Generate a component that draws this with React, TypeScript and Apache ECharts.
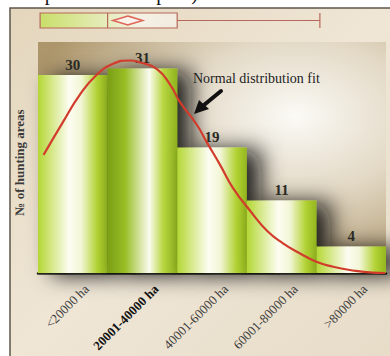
import React, { useEffect, useRef } from "react";
import * as echarts from "echarts";

// Hunting-area size classes and the number of areas in each
const categories = ["<20000 ha", "20001-40000 ha", "40001-60000 ha", "60001-80000 ha", ">80000 ha"];
const counts = [30, 31, 19, 11, 4];

// Fitted normal curve, x measured in class widths from the left edge
const fitX = [0.08, 0.36, 0.6, 0.84, 1.08, 1.32, 1.47, 1.71, 1.9, 2.04, 2.28, 2.42, 2.61, 2.8, 3.05, 3.29, 3.52, 3.76, 4.0, 4.24, 4.48, 4.81, 4.99];
const fitY = [17.9, 22.9, 27.0, 30.0, 31.7, 32.2, 31.9, 30.9, 28.5, 25.9, 22.5, 19.9, 16.5, 12.9, 9.4, 6.4, 4.5, 3.0, 1.7, 0.95, 0.45, 0.05, 0];

// Box-plot summary on the same class-width scale: min, Q1, median, Q3, max
const boxStats = [0.03, 0.03, 1.0, 2.0, 4.05];
const meanPos = 1.29;

const yMax = 35;
const caption = "Graphs 3 and Graph 4).";
const fitLabel = "Normal distribution fit";
const yName = "№ of hunting areas";

const SERIF = "'Liberation Serif', 'DejaVu Serif', serif";

function barGradient(i: number) {
  const stops =
    i === 1
      ? [
          { offset: 0, color: "#7a9f16" },
          { offset: 0.25, color: "#98bd24" },
          { offset: 0.6, color: "#fbfbef" },
          { offset: 0.8, color: "#b8d640" },
          { offset: 1, color: "#8fb21e" },
        ]
      : [
          { offset: 0, color: "#b4d734" },
          { offset: 0.45, color: "#fdfdf2" },
          { offset: 0.62, color: "#f2f6d6" },
          { offset: 0.85, color: "#b2d233" },
          { offset: 1, color: "#94b61f" },
        ];
  return new echarts.graphic.LinearGradient(0, 0, 1, 0, stops);
}

export default function App() {
  const ref = useRef<HTMLDivElement>(null);

  useEffect(() => {
    if (!ref.current) return;
    const chart = echarts.init(ref.current, null, { renderer: "svg" });

    const fitData = fitX.map((x, i) => [x, fitY[i]]);

    chart.setOption({
      animation: false,
      backgroundColor: "#ffffff",
      graphic: [
        {
          type: "rect",
          z: -10,
          shape: { x: 10, y: 8, width: 382, height: 350 },
          style: {
            fill: new echarts.graphic.LinearGradient(0, 0, 1, 1, [
              { offset: 0, color: "#e4d6bc" },
              { offset: 0.5, color: "#efe6d6" },
              { offset: 1, color: "#e7dcc8" },
            ]),
            stroke: "#5e564a",
            lineWidth: 1.5,
          },
        },
        {
          type: "text",
          z: 10,
          x: 203,
          y: -7,
          style: {
            text: caption,
            fill: "#111",
            font: `20px ${SERIF}`,
            align: "right",
            verticalAlign: "middle",
          },
        },
        {
          type: "text",
          z: 10,
          x: 193,
          y: 78,
          style: {
            text: fitLabel,
            fill: "#222",
            font: `14px ${SERIF}`,
            verticalAlign: "middle",
          },
        },
        {
          type: "line",
          z: 10,
          shape: { x1: 221, y1: 91, x2: 204, y2: 105 },
          style: { stroke: "#111", lineWidth: 4, lineCap: "round" },
        },
        {
          type: "polygon",
          z: 10,
          shape: { points: [[194, 114], [199, 100], [209, 109]] },
          style: { fill: "#111" },
        },
      ],
      grid: [
        {
          left: 38,
          right: 4,
          top: 42,
          bottom: 83,
          show: true,
          borderWidth: 0,
          backgroundColor: new echarts.graphic.RadialGradient(0.74, 0.32, 0.75, [
            { offset: 0, color: "#fbfaf6" },
            { offset: 0.45, color: "#e2d8c4" },
            { offset: 1, color: "#ad966b" },
          ]),
        },
        { left: 38, right: 4, top: 13, height: 15 },
      ],
      xAxis: [
        {
          type: "category",
          gridIndex: 0,
          data: categories,
          boundaryGap: true,
          axisLine: { show: true, lineStyle: { color: "#2b2b22", width: 2.5 } },
          axisTick: { show: false },
          axisLabel: {
            rotate: 45,
            margin: 0,
            interval: 0,
            verticalAlign: "top",
            padding: [13, 0, 0, 0],
            fontFamily: SERIF,
            formatter: (v: string, i: number) => (i === 1 ? `{b|${v}}` : `{n|${v}}`),
            rich: {
              n: { fontFamily: SERIF, fontSize: 13, color: "#3c3c3c" },
              b: { fontFamily: SERIF, fontSize: 13, color: "#111", fontWeight: "bold" },
            },
          },
        },
        { type: "value", gridIndex: 0, min: 0, max: 5, show: false },
        { type: "value", gridIndex: 1, min: 0, max: 5, show: false },
      ],
      yAxis: [
        {
          type: "value",
          gridIndex: 0,
          min: 0,
          max: yMax,
          name: yName,
          nameLocation: "middle",
          nameRotate: 90,
          nameGap: 12,
          nameTextStyle: {
            fontFamily: SERIF,
            fontSize: 13,
            fontWeight: "bold",
            color: "#3a3a3a",
            padding: [0, 10, 0, 0],
          },
          axisLine: { show: false },
          axisTick: { show: false },
          axisLabel: { show: false },
          splitLine: { show: false },
        },
        { type: "category", gridIndex: 1, data: ["fit"], show: false },
      ],
      series: [
        {
          type: "bar",
          xAxisIndex: 0,
          yAxisIndex: 0,
          barCategoryGap: "0%",
          data: counts.map((v, i) => ({
            value: v,
            itemStyle: {
              color: barGradient(i),
              shadowColor: "rgba(10,10,10,0.9)",
              shadowBlur: 22,
              shadowOffsetX: 14,
              shadowOffsetY: 2,
            },
          })),
          label: {
            show: true,
            position: "top",
            distance: 3,
            fontFamily: SERIF,
            fontSize: 15,
            fontWeight: "bold",
            color: "#2a2a22",
          },
        },
        {
          type: "line",
          xAxisIndex: 1,
          yAxisIndex: 0,
          data: fitData,
          smooth: true,
          symbol: "none",
          z: 5,
          lineStyle: { color: "#d23c2c", width: 2.2 },
        },
        {
          type: "boxplot",
          xAxisIndex: 2,
          yAxisIndex: 1,
          boxWidth: [15, 15],
          data: [boxStats],
          itemStyle: {
            color: new echarts.graphic.LinearGradient(0, 0, 1, 0, [
              { offset: 0, color: "#c9df6a" },
              { offset: 0.35, color: "#f4f2e4" },
              { offset: 0.5, color: "#f2eadf" },
              { offset: 0.7, color: "#c6dc5e" },
              { offset: 1, color: "#b7d148" },
            ]),
            borderColor: "#b8685a",
            borderWidth: 1.2,
          },
        },
        {
          type: "scatter",
          xAxisIndex: 2,
          yAxisIndex: 1,
          data: [[meanPos, "fit"]],
          symbol: "diamond",
          symbolSize: [30, 9],
          z: 6,
          itemStyle: { color: "#fff3ef", borderColor: "#d8453a", borderWidth: 2 },
        },
      ],
    });

    return () => chart.dispose();
  }, []);

  return (
    <div
      ref={ref}
      style={{ position: "fixed", left: 0, top: 0, width: 390, height: 356 }}
    />
  );
}
